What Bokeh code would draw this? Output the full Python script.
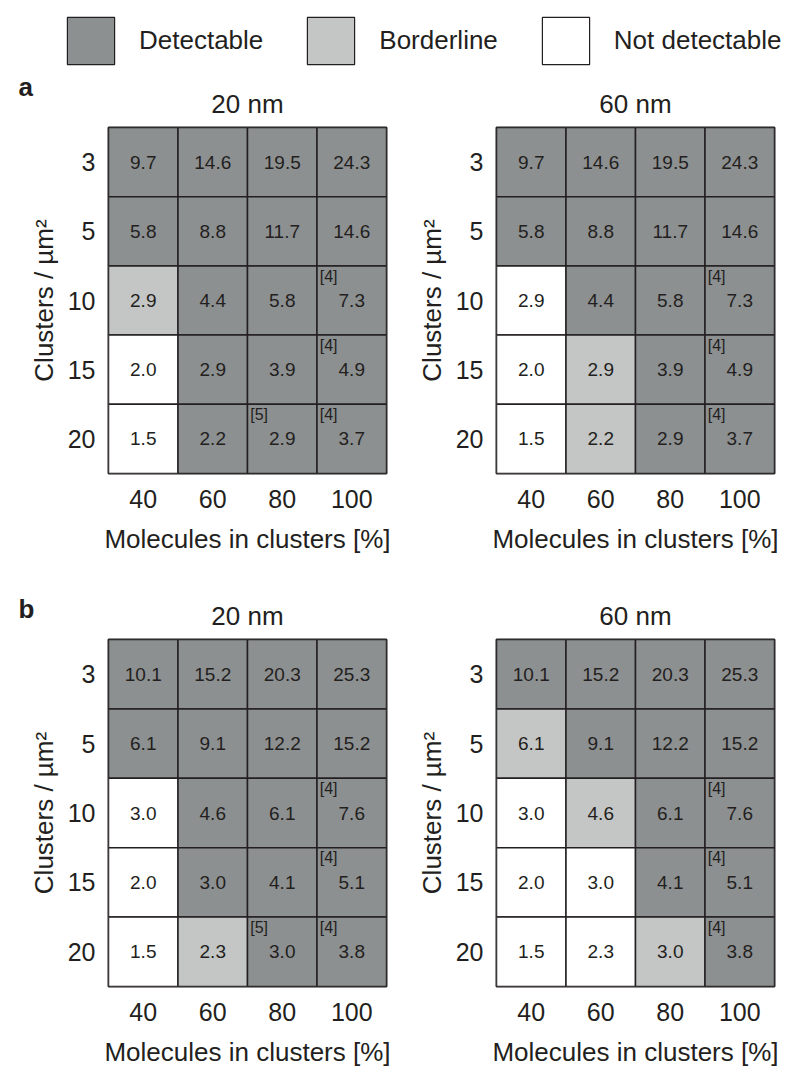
from bokeh.plotting import figure
from bokeh.models import FactorRange, ColumnDataSource, Legend, LegendItem, Title
from bokeh.layouts import column, row
from bokeh.transform import dodge
from bokeh.core.properties import value
from bokeh.embed import file_html
from bokeh.resources import INLINE

FONT = "Liberation Sans"
INK = "#231f20"

# ---------------- data ----------------
molecules = ["40", "60", "80", "100"]          # x categories (Molecules in clusters [%])
clusters = ["3", "5", "10", "15", "20"]         # y categories (Clusters / µm²)

status_names = ["Detectable", "Borderline", "Not detectable"]
status_colors = ["#8d9091", "#c4c6c5", "#ffffff"]

a_values = [
    [9.7, 14.6, 19.5, 24.3],
    [5.8, 8.8, 11.7, 14.6],
    [2.9, 4.4, 5.8, 7.3],
    [2.0, 2.9, 3.9, 4.9],
    [1.5, 2.2, 2.9, 3.7],
]
b_values = [
    [10.1, 15.2, 20.3, 25.3],
    [6.1, 9.1, 12.2, 15.2],
    [3.0, 4.6, 6.1, 7.6],
    [2.0, 3.0, 4.1, 5.1],
    [1.5, 2.3, 3.0, 3.8],
]

# D = detectable, B = borderline, N = not detectable
a20_status = [list("DDDD"), list("DDDD"), list("BDDD"), list("NDDD"), list("NDDD")]
a60_status = [list("DDDD"), list("DDDD"), list("NDDD"), list("NBDD"), list("NBDD")]
b20_status = [list("DDDD"), list("DDDD"), list("NDDD"), list("NDDD"), list("NBDD")]
b60_status = [list("DDDD"), list("BDDD"), list("NBDD"), list("NNDD"), list("NNBD")]

# reference notes: (row, col, text)
a20_notes_rows = ["10", "15", "20", "20"]
a20_notes_cols = ["100", "100", "80", "100"]
a20_notes_text = ["[4]", "[4]", "[5]", "[4]"]
a60_notes_rows = ["10", "15", "20"]
a60_notes_cols = ["100", "100", "100"]
a60_notes_text = ["[4]", "[4]", "[4]"]
b20_notes_rows = ["10", "15", "20", "20"]
b20_notes_cols = ["100", "100", "80", "100"]
b20_notes_text = ["[4]", "[4]", "[5]", "[4]"]
b60_notes_rows = ["10", "15", "20"]
b60_notes_cols = ["100", "100", "100"]
b60_notes_text = ["[4]", "[4]", "[4]"]

code_color = {"D": status_colors[0], "B": status_colors[1], "N": status_colors[2]}


def panel_title(text):
    return Title(text=text, align="center", text_font=FONT, text_font_size="26px",
                 text_font_style="normal", text_color=INK, standoff=17)


def heatmap(title, values, status, n_rows, n_cols, n_text, width, height,
            mb_left, mb_right, mb_top, mb_bottom, letter=None, letter_standoff=0):
    xs, ys, cols, labels = [], [], [], []
    for i, c in enumerate(clusters):
        for j, m in enumerate(molecules):
            xs.append(m)
            ys.append(c)
            cols.append(code_color[status[i][j]])
            labels.append(f"{values[i][j]:.1f}")
    src = ColumnDataSource(dict(x=xs, y=ys, color=cols, label=labels))
    if letter:
        top_title = Title(text=letter, align="left", offset=-90, standoff=letter_standoff,
                          text_font=FONT, text_font_size="26px", text_font_style="bold",
                          text_color=INK)
    else:
        top_title = panel_title(title)
    p = figure(width=width, height=height, output_backend="svg", toolbar_location=None,
               x_range=FactorRange(factors=molecules, range_padding=0),
               y_range=FactorRange(factors=clusters[::-1], range_padding=0),
               min_border_left=mb_left, min_border_right=mb_right,
               min_border_top=mb_top, min_border_bottom=mb_bottom,
               title=top_title)
    if letter:
        p.add_layout(panel_title(title), "above")

    p.rect(x="x", y="y", width=1, height=1, source=src, fill_color="color",
           line_color=INK, line_width=1.5)
    p.text(x="x", y="y", text="label", source=src, text_align="center",
           text_baseline="middle", text_font=value(FONT), text_font_size="19px",
           text_color=INK)
    nsrc = ColumnDataSource(dict(x=n_cols, y=n_rows, t=n_text))
    p.text(x=dodge("x", -0.46, range=p.x_range), y=dodge("y", 0.475, range=p.y_range),
           text="t", source=nsrc, text_align="left", text_baseline="top",
           text_font=value(FONT), text_font_size="16px", text_color=INK)

    p.outline_line_color = INK
    p.outline_line_width = 2
    p.xgrid.visible = False
    p.ygrid.visible = False
    p.background_fill_color = "white"
    p.border_fill_color = "white"

    for ax in (p.xaxis, p.yaxis):
        ax.axis_line_color = None
        ax.major_tick_line_color = None
        ax.minor_tick_line_color = None
        ax.major_label_text_font = FONT
        ax.major_label_text_font_size = "25px"
        ax.major_label_text_color = INK
        ax.axis_label_text_font = FONT
        ax.axis_label_text_font_size = "26px"
        ax.axis_label_text_font_style = "normal"
        ax.axis_label_text_color = INK
    p.xaxis.axis_label = "Molecules in clusters [%]"
    p.xaxis.major_label_standoff = 10
    p.xaxis.axis_label_standoff = 13
    p.yaxis.axis_label = "Clusters / µm²"
    p.yaxis.major_label_standoff = 7
    p.yaxis.axis_label_standoff = 6
    return p


# ---------------- legend ----------------
leg = figure(width=800, height=70, output_backend="svg", toolbar_location=None,
             x_range=(0, 1), y_range=(0, 1), min_border=0, outline_line_color=None)
leg.axis.visible = False
leg.grid.visible = False
items = []
for name, colr in zip(status_names, status_colors):
    # legend proxy: one point placed outside the visible range
    r = leg.rect(x=[-10], y=[-10], width=1, height=1, fill_color=colr,
                 line_color=INK, line_width=1.2)
    items.append(LegendItem(label=name, renderers=[r]))
legend = Legend(items=items, orientation="horizontal", location=(61, 0),
                glyph_width=59, glyph_height=59, label_standoff=19, spacing=38,
                padding=0, margin=0, border_line_color=None, background_fill_alpha=0,
                label_text_font=FONT, label_text_font_size="26px", label_text_color=INK)
leg.add_layout(legend)

a1 = heatmap("20 nm", a_values, a20_status, a20_notes_rows, a20_notes_cols, a20_notes_text,
             392, 490, 108, 6, 57, 87, letter="a", letter_standoff=-47)
a2 = heatmap("60 nm", a_values, a60_status, a60_notes_rows, a60_notes_cols, a60_notes_text,
             408, 490, 104, 26, 57, 87)
b1 = heatmap("20 nm", b_values, b20_status, b20_notes_rows, b20_notes_cols, b20_notes_text,
             392, 522, 108, 6, 79, 96, letter="b", letter_standoff=-67)
b2 = heatmap("60 nm", b_values, b60_status, b60_notes_rows, b60_notes_cols, b60_notes_text,
             408, 522, 104, 26, 79, 96)

layout = column(leg, row(a1, a2), row(b1, b2))
open("out.html", "w").write(file_html(layout, INLINE))
